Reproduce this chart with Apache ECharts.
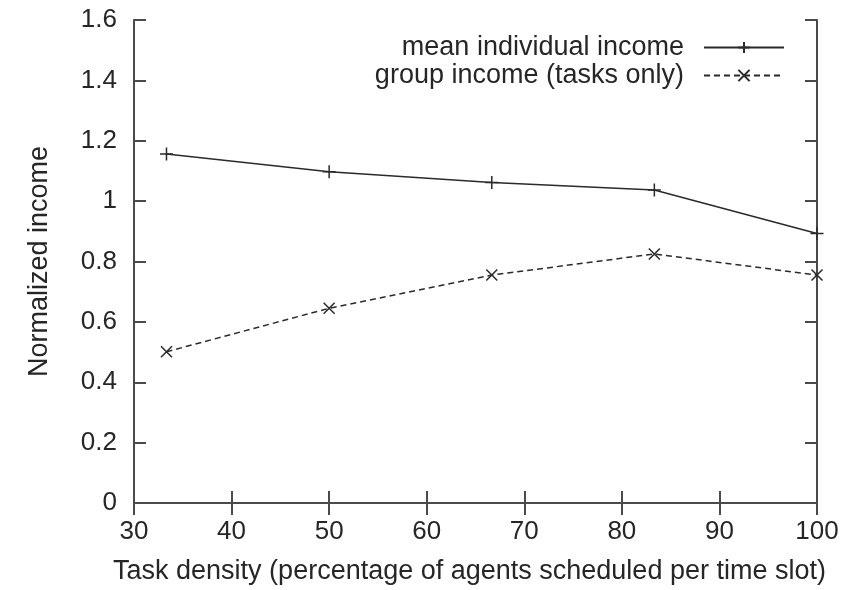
<!DOCTYPE html>
<html>
<head>
<meta charset="utf-8">
<script src="https://cdn.jsdelivr.net/npm/echarts@6/dist/echarts.min.js"></script>
<style>html,body{margin:0;padding:0;background:#fff}#c{width:851px;height:590px}</style>
</head>
<body>
<div id="c"></div>
<script>
const taskDensity = [33.33, 50, 66.67, 83.33, 100];
const meanIndividualIncome = [1.156, 1.097, 1.062, 1.037, 0.893];
const groupIncomeTasksOnly = [0.501, 0.645, 0.755, 0.825, 0.755];
const seriesNames = ['mean individual income', 'group income (tasks only)'];
const xAxisTitle = 'Task density (percentage of agents scheduled per time slot)';
const yAxisTitle = 'Normalized income';

const FONT = 'Liberation Sans, Arial, Helvetica, sans-serif';
const AX = '#4a4a4a';
const LINE = '#2a2a2a';
const TXT = '#262626';
const FS = 26;
const FT = 27;

function pairs(xs, ys) { return xs.map((x, i) => [x, ys[i]]); }

const plusSym = 'path://M5,0L5,10M0,5L10,5';
const crossSym = 'path://M0,0L10,10M0,10L10,0';

const axisCommon = {
  axisLine: { show: true, lineStyle: { color: AX, width: 2 } },
  axisTick: { show: true, inside: true, length: 12, lineStyle: { color: AX, width: 2 } },
  splitLine: { show: false }
};

const chart = echarts.init(document.getElementById('c'), null, { renderer: 'canvas' });
chart.setOption({
  animation: false,
  backgroundColor: '#fff',
  textStyle: { fontFamily: FONT },
  grid: { left: 134, right: 34, top: 20, bottom: 87, containLabel: false },
  legend: [
    {
      data: [seriesNames[0]], right: 66, top: 34, orient: 'vertical', align: 'right',
      padding: 0, itemWidth: 80, itemHeight: 14, itemGap: 0,
      textStyle: { fontSize: FT, color: TXT, fontFamily: FONT, padding: [0, 15, 0, 0] }
    },
    {
      data: [seriesNames[1]], right: 66, top: 62, orient: 'vertical', align: 'right',
      padding: 0, itemWidth: 80, itemHeight: 14, itemGap: 0,
      textStyle: { fontSize: FT, color: TXT, fontFamily: FONT, padding: [0, 15, 0, 0] }
    }
  ],
  xAxis: [
    Object.assign({}, axisCommon, {
      type: 'value', min: 30, max: 100, interval: 10, position: 'bottom',
      name: xAxisTitle, nameLocation: 'middle', nameGap: 55,
      nameTextStyle: { fontSize: FT, color: TXT, fontFamily: FONT, padding: [0, 12, 0, 0] },
      axisLabel: { fontSize: FS, color: TXT, margin: 16, fontFamily: FONT }
    }),
    Object.assign({}, axisCommon, {
      type: 'value', min: 30, max: 100, interval: 10, position: 'top',
      axisLabel: { show: false }
    })
  ],
  yAxis: [
    Object.assign({}, axisCommon, {
      type: 'value', min: 0, max: 1.6, interval: 0.2, position: 'left',
      name: yAxisTitle, nameLocation: 'middle', nameGap: 81, nameRotate: 90,
      nameTextStyle: { fontSize: FT, color: TXT, fontFamily: FONT },
      axisLabel: { fontSize: FS, color: TXT, margin: 17, fontFamily: FONT }
    }),
    Object.assign({}, axisCommon, {
      type: 'value', min: 0, max: 1.6, interval: 0.2, position: 'right',
      axisLabel: { show: false }
    })
  ],
  series: [
    {
      name: seriesNames[0], type: 'line', data: pairs(taskDensity, meanIndividualIncome),
      symbol: plusSym, symbolSize: 13, showAllSymbol: true,
      lineStyle: { color: LINE, width: 1.5, type: 'solid' },
      itemStyle: { color: 'none', borderColor: LINE, borderWidth: 1.5 }
    },
    {
      name: seriesNames[1], type: 'line', data: pairs(taskDensity, groupIncomeTasksOnly),
      symbol: crossSym, symbolSize: 11, showAllSymbol: true,
      lineStyle: { color: LINE, width: 1.5, type: [6, 4] },
      itemStyle: { color: 'none', borderColor: LINE, borderWidth: 1.5 }
    }
  ]
});
</script>
</body>
</html>
